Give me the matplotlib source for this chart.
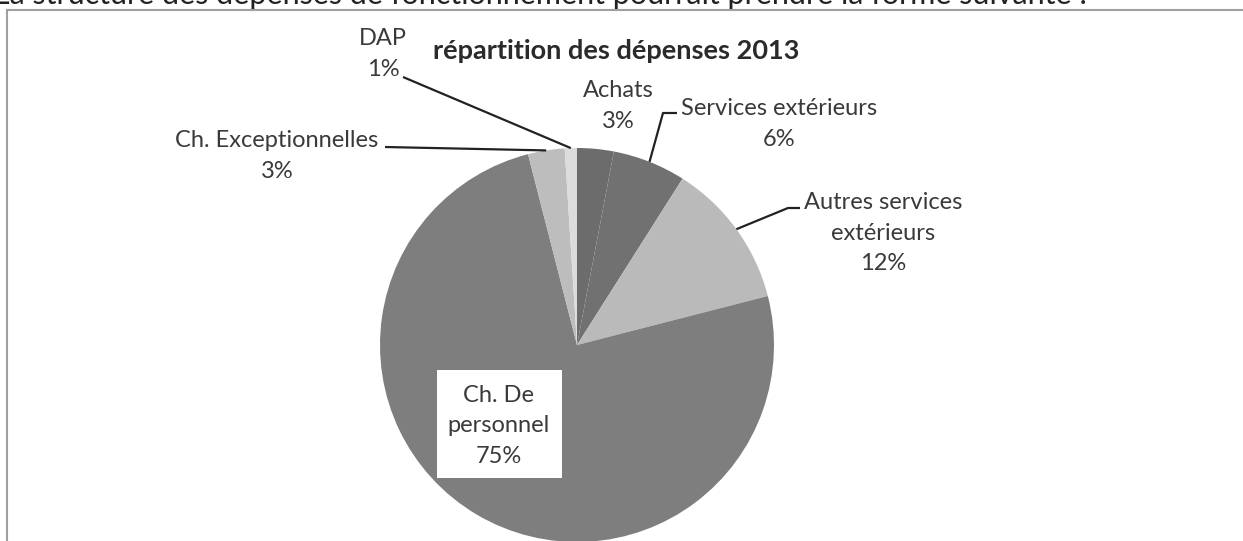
import numpy as np
import matplotlib
matplotlib.use("Agg")
import matplotlib.pyplot as plt
from matplotlib.patches import Rectangle

# data (clockwise from 12 o'clock, as in the Excel chart)
categories = ["Achats", "Services extérieurs", "Autres services\nextérieurs",
              "Ch. De\npersonnel", "Ch. Exceptionnelles", "DAP"]
shares = [3, 6, 12, 75, 3, 1]
slice_colors = ["#6c6c6c", "#717171", "#bababa", "#7e7e7e", "#bdbdbd", "#dcdcdc"]

title = "répartition des dépenses 2013"
heading = "La structure des dépenses de fonctionnement pourrait prendre la forme suivante :"

W, H = 1243, 541
plt.rcParams['font.family'] = ['Lato', 'DejaVu Sans']

fig = plt.figure(figsize=(W / 100, H / 100), dpi=100)
ax = fig.add_axes([0, 0, 1, 1])


def fy(y):
    # pixel rows are counted from the top in the reference
    return H - y


cx, cy, r = 577, fy(345), 197
wedges, _ = ax.pie(shares, colors=slice_colors, startangle=90, counterclock=False,
                   center=(cx, cy), radius=r, wedgeprops=dict(linewidth=0))
ax.set_xlim(0, W)
ax.set_ylim(0, H)
ax.set_aspect('equal')
ax.axis('off')


def edge_point(w):
    mid = np.deg2rad((w.theta1 + w.theta2) / 2)
    return cx + r * np.cos(mid), cy + r * np.sin(mid)


txt = dict(fontsize=17, color="#3a3a3a", ha='center', va='center', linespacing=1.55)

# label layout: (text x, text y, leader start points) in reference pixels
layout = {
    0: ((618, 106), []),
    1: ((779, 124), [(677, 113), (663, 113)]),
    2: ((883, 233), [(800, 208), (788, 208)]),
    4: ((277, 156), [(385, 147)]),
    5: ((383, 54), [(403, 77)]),
}

for i, ((tx, ty), pts) in layout.items():
    ax.text(tx, fy(ty), f"{categories[i]}\n{shares[i]}%", **txt)
    if pts:
        ex, ey = edge_point(wedges[i])
        xs = [p[0] for p in pts] + [ex]
        ys = [fy(p[1]) for p in pts] + [ey]
        ax.plot(xs, ys, color="#222222", lw=1.6, solid_capstyle='butt')

# label inside the big slice, on a white box
ax.add_patch(Rectangle((437, fy(478)), 125, 108, facecolor='white', edgecolor='none', zorder=3))
ax.text(499, fy(426), f"{categories[3]}\n{shares[3]}%", zorder=4, **txt)

ax.text(616, fy(51), title, fontsize=19.5, fontweight='bold', color="#2a2a2a",
        ha='center', va='center')

# chart frame (top and left edges only visible in the scan)
ax.plot([7, W], [fy(10), fy(10)], color="#a0a0a0", lw=1.5)
ax.plot([7, 7], [fy(10), 0], color="#a0a0a0", lw=1.5)

# page text cut off at the top of the scan
ax.text(-6, fy(4), heading, fontsize=22, color="#222222", ha='left', va='baseline')

fig.savefig("out.png", dpi=100)
